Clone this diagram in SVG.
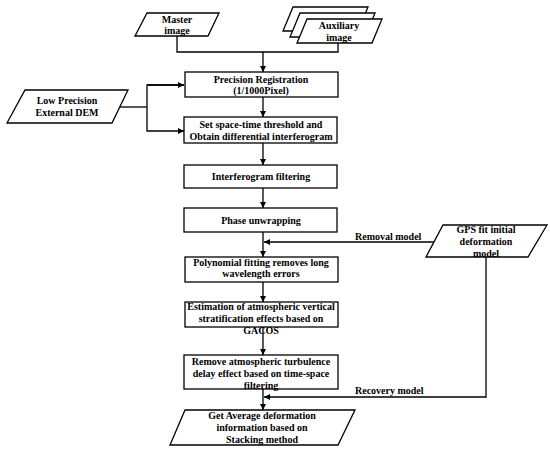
<svg xmlns="http://www.w3.org/2000/svg" width="550" height="450" viewBox="0 0 550 450">
<style>
.s{fill:#fff;stroke:#000;stroke-width:1.3}
.t{font-family:"Liberation Serif","Times New Roman",serif;font-weight:bold;font-size:10px;text-anchor:middle;fill:#000}
.l{font-family:"Liberation Serif","Times New Roman",serif;font-weight:bold;font-size:10px;fill:#000}
.c{fill:none;stroke:#000;stroke-width:1.3}
</style>
<defs>
<marker id="a" viewBox="0 0 10 10" refX="10" refY="5" markerWidth="6" markerHeight="6" markerUnits="userSpaceOnUse" orient="auto"><path d="M0,0L10,5L0,10z" fill="#000"/></marker>
</defs>
<rect width="550" height="450" fill="#fff"/>
<g id="master"><polygon class="s" points="147,13 219,13 208,36 135,36"/><text class="t" x="177" y="23">Master</text><text class="t" x="177" y="34">image</text></g>
<g id="auxiliary"><polygon class="s" points="293,7 368,7 358,31 283,31"/><polygon class="s" points="300,13 375,13 365,37 290,37"/><polygon class="s" points="307,19 382,19 372,43 297,43"/><text class="t" x="339" y="29">Auxiliary</text><text class="t" x="339" y="41">image</text></g>
<g id="dem"><polygon class="s" points="25,90 128,90 112,123 7,123"/><text class="t" x="67" y="104">Low Precision</text><text class="t" x="67" y="116">External DEM</text></g>
<g id="registration"><rect class="s" x="185" y="72" width="153" height="25"/><text class="t" x="261" y="83">Precision Registration</text><text class="t" x="261" y="94">(1/1000Pixel)</text></g>
<g id="threshold"><rect class="s" x="184" y="117" width="153" height="26"/><text class="t" x="261" y="128">Set space-time threshold and</text><text class="t" x="261" y="140">Obtain differential interferogram</text></g>
<g id="filtering"><rect class="s" x="184" y="165" width="153" height="23"/><text class="t" x="261" y="180">Interferogram filtering</text></g>
<g id="unwrapping"><rect class="s" x="184" y="208" width="153" height="24"/><text class="t" x="261" y="224">Phase unwrapping</text></g>
<g id="polynomial"><rect class="s" x="185" y="257" width="153" height="25"/><text class="t" x="261" y="266">Polynomial fitting removes long</text><text class="t" x="261" y="277">wavelength errors</text></g>
<g id="gacos"><rect class="s" x="185" y="302" width="153" height="25"/><text class="t" x="261" y="310">Estimation of atmospheric vertical</text><text class="t" x="261" y="322">stratification effects based on</text><text class="t" x="261" y="334">GACOS</text></g>
<g id="turbulence"><rect class="s" x="184" y="355" width="154" height="34"/><text class="t" x="261" y="365">Remove atmospheric turbulence</text><text class="t" x="261" y="377">delay effect based on time-space</text><text class="t" x="261" y="389">filtering</text></g>
<g id="gps"><polygon class="s" points="443,225 547,225 528,257 426,257"/><text class="t" x="486" y="233">GPS fit initial</text><text class="t" x="486" y="245">deformation</text><text class="t" x="486" y="257">model</text></g>
<g id="average"><polygon class="s" points="185,410 355,410 338,445 170,445"/><text class="t" x="262" y="419">Get Average deformation</text><text class="t" x="262" y="431">information based on</text><text class="t" x="262" y="443">Stacking method</text></g>
<g id="connectors">
<polyline class="c" points="177,36 177,52 338,52 338,43"/>
<line class="c" x1="263" y1="52" x2="263" y2="72" marker-end="url(#a)"/>
<polyline class="c" points="120,107 147,107"/>
<polyline class="c" points="184,85 147,85 147,131 184,131" marker-end="url(#a)"/>
<line class="c" x1="147" y1="85" x2="184" y2="85" marker-end="url(#a)"/>
<line class="c" x1="263" y1="97" x2="263" y2="117" marker-end="url(#a)"/>
<line class="c" x1="263" y1="143" x2="263" y2="165" marker-end="url(#a)"/>
<line class="c" x1="263" y1="188" x2="263" y2="208" marker-end="url(#a)"/>
<line class="c" x1="263" y1="232" x2="263" y2="257" marker-end="url(#a)"/>
<line class="c" x1="434" y1="242" x2="264" y2="242" marker-end="url(#a)"/>
<line class="c" x1="263" y1="282" x2="263" y2="302" marker-end="url(#a)"/>
<line class="c" x1="263" y1="327" x2="263" y2="355" marker-end="url(#a)"/>
<line class="c" x1="263" y1="389" x2="263" y2="410" marker-end="url(#a)"/>
<polyline class="c" points="486,257 486,397 264,397" marker-end="url(#a)"/>
<text class="l" x="355" y="240">Removal model</text>
<text class="l" x="355" y="394">Recovery model</text>
</g>
</svg>
